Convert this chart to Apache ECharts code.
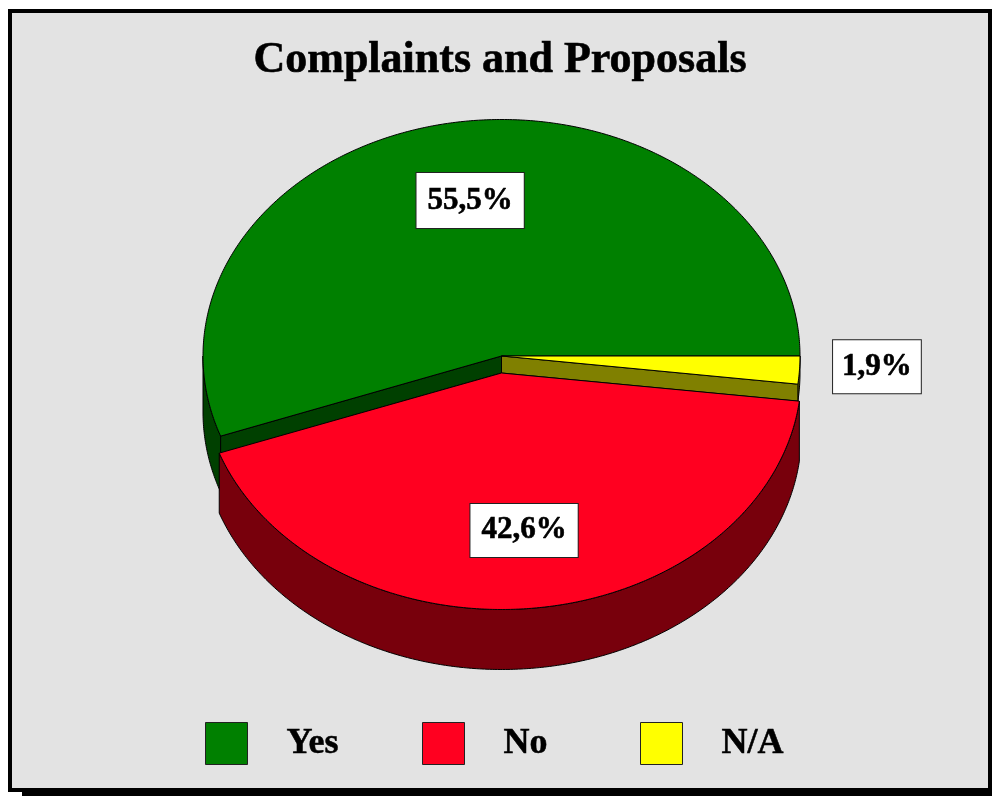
<!DOCTYPE html>
<html>
<head>
<meta charset="utf-8">
<title>Complaints and Proposals</title>
<script src="https://cdn.jsdelivr.net/npm/echarts@6/dist/echarts.min.js"></script>
<style>
    html, body { margin: 0; padding: 0; background: #fff; }
    #chart { width: 992px; height: 796px; }
</style>
</head>
<body>
<div id="chart"></div>
<script>
// ============================================
// Data
// ============================================
const chartTitle = 'Complaints and Proposals';
const categories = ['Yes', 'No', 'N/A'];
const shares = [55.5, 42.6, 1.9];

// slices run clockwise from 3 o'clock in this order
const sliceOrder = ['N/A', 'No', 'Yes'];

// ============================================
// Look of each slice (pixels)
// ============================================
const FONT = '"Liberation Serif", serif';
const sliceStyle = {
    'Yes': { top: '#008000', side: '#004000', lift: 0, depth: 56, spread: 1, wallAt: 'start', labelR: 0.65, dx: 2, dy: -4, pad: [12, 11] },
    'No': { top: '#ff0020', side: '#78000c', lift: 17, depth: 60, spread: 1.005, wallAt: null, labelR: 0.67, dx: 0, dy: 0, pad: [11, 11] },
    'N/A': { top: '#ffff00', side: '#808000', lift: 0, depth: 17, spread: 1, wallAt: 'end', labelR: 1.26, dx: 0, dy: -7, pad: [11, 9] }
};
const WALL_DEPTH = 17;
const legendLeft = { 'Yes': 205, 'No': 422, 'N/A': 640 };

// cumulated angles from the shares
const total = shares.reduce((sum, v) => sum + v, 0);
const sliceAngles = {};
let running = 0;
sliceOrder.forEach(name => {
    const start = running;
    running += shares[categories.indexOf(name)] / total * 360;
    sliceAngles[name] = [start, running];
});

function formatShare(v) {
    return v.toFixed(1).replace('.', ',') + '%';
}

// point on the rim, through the hidden axes
function rimPoint(api, deg, dy, spread) {
    const rad = deg * Math.PI / 180;
    const p = api.coord([Math.cos(rad) * spread, Math.sin(rad)]);
    return [p[0], p[1] + dy];
}

function centerPoint(api, dy) {
    const p = api.coord([0, 0]);
    return [p[0], p[1] + dy];
}

function arcPoints(api, from, to, dy, spread) {
    const pts = [];
    const steps = Math.max(2, Math.ceil((to - from) * 2));
    for (let i = 0; i <= steps; i++) {
        pts.push(rimPoint(api, from + (to - from) * i / steps, dy, spread));
    }
    return pts;
}

function renderSlice(name, params, api) {
    const look = sliceStyle[name];
    const [start, end] = sliceAngles[name];
    const children = [];
    const line = { stroke: '#000', lineWidth: 1, lineJoin: 'round' };

    // outer wall, only the front half of the rim shows
    const wallEnd = Math.min(end, 180);
    if (start < 180) {
        const upper = arcPoints(api, start, wallEnd, look.lift, look.spread);
        const lower = arcPoints(api, start, wallEnd, look.lift + look.depth, look.spread).reverse();
        children.push({
            type: 'polygon',
            shape: { points: upper.concat(lower) },
            style: Object.assign({ fill: look.side }, line)
        });
    }

    // cut face where the red slice has dropped away
    if (look.wallAt) {
        const deg = look.wallAt === 'start' ? start : end;
        children.push({
            type: 'polygon',
            shape: {
                points: [
                    centerPoint(api, look.lift),
                    rimPoint(api, deg, look.lift, look.spread),
                    rimPoint(api, deg, look.lift + WALL_DEPTH, look.spread),
                    centerPoint(api, look.lift + WALL_DEPTH)
                ]
            },
            style: Object.assign({ fill: look.side }, line)
        });
    }

    // top face
    children.push({
        type: 'polygon',
        shape: { points: [centerPoint(api, look.lift)].concat(arcPoints(api, start, end, look.lift, look.spread)) },
        style: Object.assign({ fill: look.top }, line)
    });

    // value box
    const mid = (start + end) / 2 * Math.PI / 180;
    const anchor = api.coord([Math.cos(mid) * look.labelR, Math.sin(mid) * look.labelR]);
    children.push({
        type: 'text',
        x: anchor[0] + look.dx,
        y: anchor[1] + look.lift + look.dy,
        style: {
            text: formatShare(api.value(0)),
            font: 'bold 31px ' + FONT,
            fill: '#000',
            stroke: '#000',
            lineWidth: 0.6,
            align: 'center',
            verticalAlign: 'middle',
            backgroundColor: '#fff',
            borderColor: '#222',
            borderWidth: 1,
            padding: look.pad
        }
    });

    return { type: 'group', children };
}

const chart = echarts.init(document.getElementById('chart'));

chart.setOption({
    animation: false,
    backgroundColor: '#fff',
    title: {
        text: chartTitle,
        left: 500,
        top: 39,
        padding: 0,
        textAlign: 'center',
        textStyle: {
            fontFamily: FONT,
            fontWeight: 'bold',
            fontSize: 44,
            color: '#000',
            textBorderColor: '#000',
            textBorderWidth: 0.6
        }
    },
    // frame with its drop shadow
    graphic: [
        { type: 'rect', shape: { x: 22, y: 22, width: 970, height: 774 }, style: { fill: '#000' }, z: 0 },
        { type: 'rect', shape: { x: 8, y: 9, width: 984, height: 783 }, style: { fill: '#000' }, z: 0 },
        { type: 'rect', shape: { x: 12, y: 13, width: 976, height: 775 }, style: { fill: '#e3e3e3' }, z: 1 }
    ],
    grid: { left: 203, top: 119.5, width: 597, height: 473 },
    xAxis: { type: 'value', min: -1, max: 1, show: false },
    yAxis: { type: 'value', min: -1, max: 1, inverse: true, show: false },
    // one legend per entry, the boxes sit at an even pitch whatever the text width
    legend: categories.map(name => ({
        left: legendLeft[name],
        top: 722,
        padding: 0,
        data: [name],
        icon: 'rect',
        itemWidth: 42,
        itemHeight: 42,
        selectedMode: false,
        itemStyle: { borderColor: '#222', borderWidth: 1 },
        textStyle: {
            fontFamily: FONT,
            fontWeight: 'bold',
            fontSize: 36,
            color: '#000',
            textBorderColor: '#000',
            textBorderWidth: 0.5,
            padding: [2, 0, 0, 34]
        }
    })),
    series: ['Yes', 'N/A', 'No'].map(name => ({
        type: 'custom',
        name: name,
        coordinateSystem: 'cartesian2d',
        clip: false,
        itemStyle: { color: sliceStyle[name].top },
        encode: { x: 0, y: 0 },
        data: [[shares[categories.indexOf(name)]]],
        renderItem: (params, api) => renderSlice(name, params, api)
    }))
});
</script>
</body>
</html>
